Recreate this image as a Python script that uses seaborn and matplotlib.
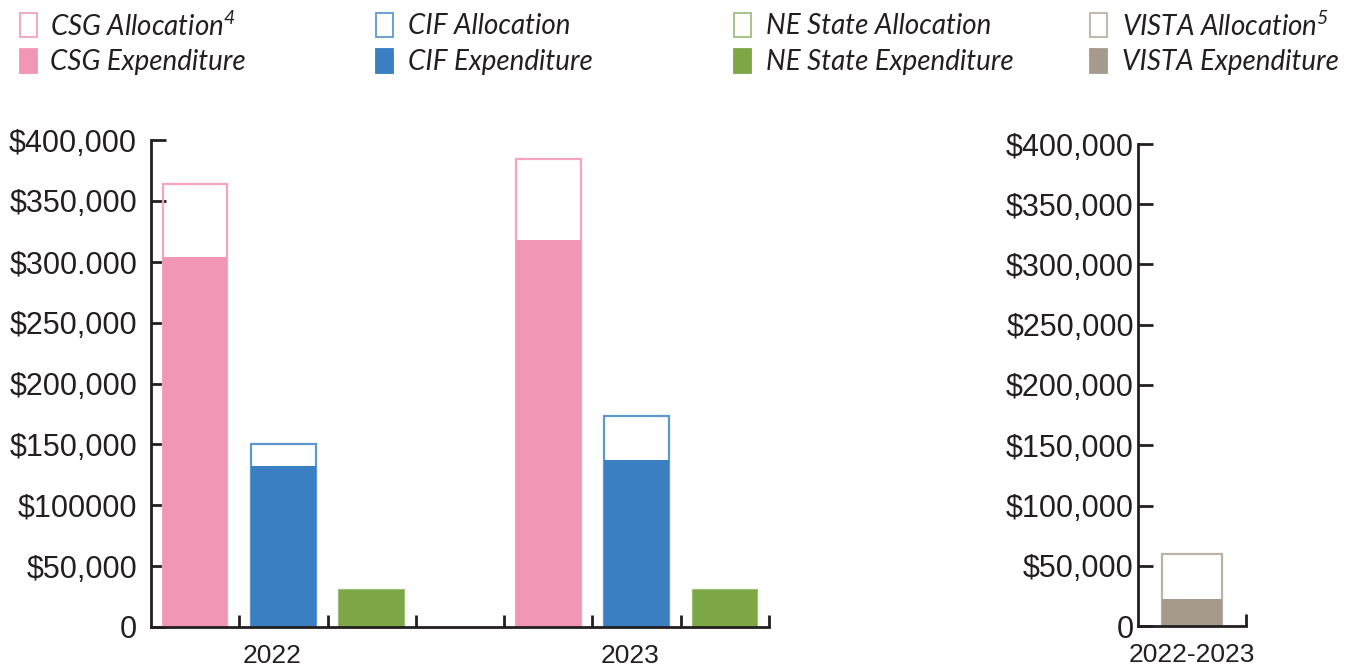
import pandas as pd
import seaborn as sns
import matplotlib.pyplot as plt
from matplotlib.patches import Rectangle

# values (dollars)
years = ["2022", "2023"]
programs = ["CSG", "CIF", "NE State"]
csg_alloc = [364000, 384000]
csg_exp = [304000, 318000]
cif_alloc = [150000, 173000]
cif_exp = [132500, 137500]
ne_alloc = [30000, 30000]
ne_exp = [30000, 30000]

vista_period = ["2022-2023"]
vista_alloc = [59500]
vista_exp = [22000]

yticks = [0, 50000, 100000, 150000, 200000, 250000, 300000, 350000, 400000]
left_ylabels = ["0", "$50,000", "$100000", "$150,000", "$200,000",
                "$250,000", "$300.000", "$350,000", "$400,000"]
right_ylabels = ["0", "$50,000", "$100,000", "$150,000", "$200,000",
                 "$250,000", "$300,000", "$350,000", "$400,000"]

fill = {"CSG": "#F196B4", "CIF": "#3A7FC1", "NE State": "#7DA647", "VISTA": "#A69A8C"}
edge = {"CSG": "#F5A3C1", "CIF": "#5C97D1", "NE State": "#9DBF7A", "VISTA": "#BCB1A6"}
ink = "#231f20"

sns.set_style("ticks")
plt.rcParams['font.family'] = ['Liberation Sans', 'DejaVu Sans']
plt.rcParams['mathtext.fontset'] = 'custom'
plt.rcParams['mathtext.rm'] = 'Lato:italic'
plt.rcParams['mathtext.it'] = 'Lato:italic'

# long table for the left panel, one slot per program/year with a gap between years
alloc = {"CSG": csg_alloc, "CIF": cif_alloc, "NE State": ne_alloc}
exp = {"CSG": csg_exp, "CIF": cif_exp, "NE State": ne_exp}
rows = []
for i, yr in enumerate(years):
    for p in programs:
        rows.append({"slot": f"{p} {yr}", "program": p, "alloc": alloc[p][i], "exp": exp[p][i]})
df = pd.DataFrame(rows)
order = [f"{p} 2022" for p in programs] + ["gap"] + [f"{p} 2023" for p in programs]

vista = pd.DataFrame({"period": vista_period, "program": ["VISTA"],
                      "alloc": vista_alloc, "exp": vista_exp})

W, H = 1350, 665
fig = plt.figure(figsize=(13.5, 6.65), dpi=100)
ax = fig.add_axes([151 / W, 38 / H, 618 / W, 487 / H])
ax2 = fig.add_axes([1138 / W, 39 / H, 108 / W, 482 / H])

# allocation outlines first, expenditure fill on top
sns.barplot(data=df, x="slot", y="alloc", hue="program", order=order, palette=edge,
            fill=False, linewidth=1.6, width=0.73, dodge=False, errorbar=None,
            saturation=1, legend=False, ax=ax)
sns.barplot(data=df, x="slot", y="exp", hue="program", order=order, palette=fill,
            width=0.73, dodge=False, errorbar=None, linewidth=0, saturation=1,
            legend=False, ax=ax)

sns.barplot(data=vista, x="period", y="alloc", hue="program", palette=edge,
            fill=False, linewidth=1.6, width=0.556, errorbar=None, saturation=1,
            legend=False, ax=ax2)
sns.barplot(data=vista, x="period", y="exp", hue="program", palette=fill,
            width=0.556, errorbar=None, linewidth=0, saturation=1, legend=False, ax=ax2)

for a, labels, pad in [(ax, left_ylabels, 10), (ax2, right_ylabels, 3)]:
    a.set_ylim(0, 400000)
    a.set_yticks(yticks)
    a.set_yticklabels(labels)
    a.set_xlabel("")
    a.set_ylabel("")
    sns.despine(ax=a)
    for s in ["left", "bottom"]:
        a.spines[s].set_linewidth(2.0)
        a.spines[s].set_color(ink)
    a.tick_params(axis="y", direction="in", length=11, width=2.0, color=ink,
                  labelsize=22, labelcolor=ink, pad=pad)
    a.tick_params(axis="x", which="major", direction="in", length=9, width=2.0,
                  color=ink, labelbottom=False)
    a.tick_params(axis="x", which="minor", length=0, labelsize=19,
                  labelcolor=ink, pad=12)

ax.set_xlim(-0.5, 6.5)
ax.set_xticks([0.5, 1.5, 2.5, 3.5, 4.5, 5.5, 6.5])
ax.set_xticks([0.87, 4.93], minor=True)
ax.set_xticklabels(years, minor=True)

ax2.set_xlim(-0.5, 0.5)
ax2.set_xticks([0.5])
ax2.set_xticks([0.0], minor=True)
ax2.set_xticklabels(vista_period, minor=True)

# legend drawn as boxes + text across the top
legend_items = [("CSG", "CSG Allocation$^{4}$", "CSG Expenditure", 20, 50),
                ("CIF", "CIF Allocation", "CIF Expenditure", 376, 408),
                ("NE State", "NE State Allocation", "NE State Expenditure", 734, 766),
                ("VISTA", "VISTA Allocation$^{5}$", "VISTA Expenditure", 1090, 1122)]
for key, lab1, lab2, bx, tx in legend_items:
    for row, (lab, filled) in enumerate([(lab1, False), (lab2, True)]):
        ytop = 13 + row * 36
        fig.add_artist(Rectangle((bx / W, 1 - (ytop + 24) / H), 17 / W, 24 / H,
                                 transform=fig.transFigure,
                                 facecolor=fill[key] if filled else "white",
                                 edgecolor=fill[key] if filled else edge[key],
                                 linewidth=1.3))
        fig.text(tx / W, 1 - (ytop + 13) / H, lab, family="Lato", style="italic",
                 fontsize=20, color=ink, va="center", ha="left")

fig.savefig("out.png", dpi=100)
